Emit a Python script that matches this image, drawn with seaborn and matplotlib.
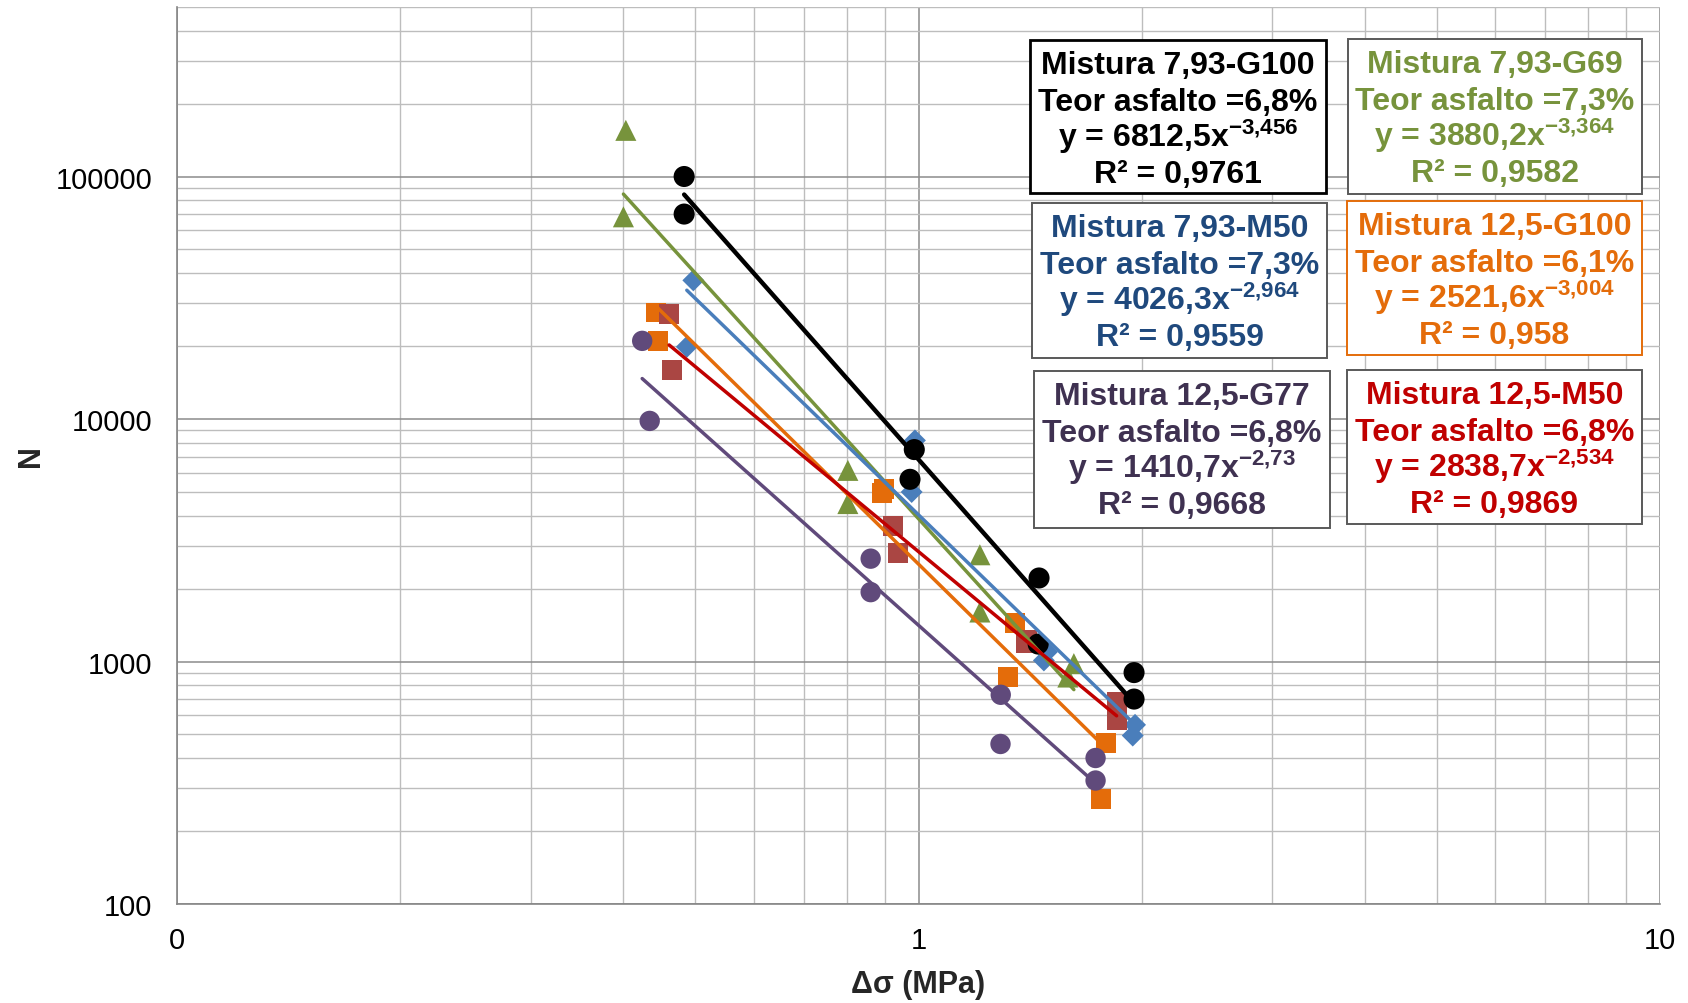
import numpy as np
import pandas as pd
import matplotlib
matplotlib.use("Agg")
import matplotlib.pyplot as plt
from matplotlib.ticker import FixedLocator, FixedFormatter, LogLocator, NullFormatter
from matplotlib.patches import Rectangle
import seaborn as sns

# ---------------- data ----------------
series_names = ["Mistura 7,93-G100", "Mistura 7,93-G69", "Mistura 7,93-M50",
                "Mistura 12,5-G100", "Mistura 12,5-G77", "Mistura 12,5-M50"]

x_793_g100 = [0.483, 0.483, 0.987, 0.974, 1.454, 1.450, 1.953, 1.953]
y_793_g100 = [100000, 70000, 7480, 5640, 2210, 1180, 900, 700]

x_793_g69 = [0.403, 0.400, 0.803, 0.803, 1.210, 1.210, 1.620, 1.590]
y_793_g69 = [155000, 68200, 6140, 4480, 2755, 1600, 980, 863]

x_793_m50 = [0.497, 0.487, 0.989, 0.979, 1.490, 1.476, 1.959, 1.945]
y_793_m50 = [37300, 19840, 8160, 5000, 1095, 1010, 548, 495]

x_125_g100 = [0.442, 0.445, 0.898, 0.893, 1.349, 1.320, 1.790, 1.762]
y_125_g100 = [27500, 21000, 5130, 4950, 1446, 863, 462, 271]

x_125_g77 = [0.424, 0.434, 0.862, 0.862, 1.291, 1.290, 1.733, 1.733]
y_125_g77 = [21000, 9820, 2655, 1932, 729, 457, 400, 323]

x_125_m50 = [0.461, 0.465, 0.925, 0.939, 1.397, 1.400, 1.850, 1.850]
y_125_m50 = [27200, 15900, 3610, 2810, 1192, 1230, 680, 571]

asphalt_content = ["6,8%", "7,3%", "7,3%", "6,1%", "6,8%", "6,8%"]
fit_coef = [6812.5, 3880.2, 4026.3, 2521.6, 1410.7, 2838.7]
fit_expo = [-3.456, -3.364, -2.964, -3.004, -2.73, -2.534]
fit_r2 = [0.9761, 0.9582, 0.9559, 0.958, 0.9668, 0.9869]

x_ticks = [0.1, 1, 10]
x_tick_labels = ["0", "1", "10"]
y_ticks = [100, 1000, 10000, 100000]
y_tick_labels = ["100", "1000", "10000", "100000"]

x_data = [x_793_g100, x_793_g69, x_793_m50, x_125_g100, x_125_g77, x_125_m50]
y_data = [y_793_g100, y_793_g69, y_793_m50, y_125_g100, y_125_g77, y_125_m50]

# ---------------- styles ----------------
marker_color = ["#000000", "#77933C", "#4A7EBB", "#E46C0A", "#604A7B", "#AA4643"]
line_color = ["#000000", "#77933C", "#4A7EBB", "#E46C0A", "#604A7B", "#C00000"]
text_color = ["#000000", "#77933C", "#1F497D", "#E46C0A", "#3F3151", "#C00000"]
border_color = ["#000000", "#595959", "#595959", "#E46C0A", "#595959", "#595959"]
border_lw = [2.0, 1.4, 1.4, 1.4, 1.4, 1.4]
markers = ["o", "^", "D", "s", "o", "s"]
msizes = [230, 230, 125, 205, 215, 205]
line_w = [3.2, 2.5, 2.5, 2.5, 2.5, 2.5]
draw_order = [2, 3, 5, 0, 1, 4]

rows = []
for name, xs, ys in zip(series_names, x_data, y_data):
    for xv, yv in zip(xs, ys):
        rows.append({"serie": name, "x": xv, "y": yv})
df = pd.DataFrame(rows)

trend_rows = []
for name, xs, a, b in zip(series_names, x_data, fit_coef, fit_expo):
    for xv in (min(xs), max(xs)):
        trend_rows.append({"serie": name, "x": xv, "y": a * xv ** b})
df_trend = pd.DataFrame(trend_rows)

sns.set_style("white")
plt.rcParams["font.family"] = ["Liberation Sans", "DejaVu Sans"]
plt.rcParams["mathtext.fontset"] = "custom"
plt.rcParams["mathtext.rm"] = "Liberation Sans"
plt.rcParams["mathtext.bf"] = "Liberation Sans:bold"
plt.rcParams["mathtext.it"] = "Liberation Sans:italic"

W, H = 1688, 1004
fig = plt.figure(figsize=(W / 100, H / 100), dpi=100)
ax = fig.add_axes([177 / W, 1 - 905 / H, (1660 - 177) / W, (905 - 8) / H])

for i in draw_order:
    sub = df[df["serie"] == series_names[i]]
    sns.scatterplot(data=sub, x="x", y="y", color=marker_color[i], marker=markers[i],
                    s=msizes[i], linewidth=0, edgecolor="none", ax=ax, zorder=3,
                    legend=False)

for i in range(len(series_names)):
    sub = df_trend[df_trend["serie"] == series_names[i]]
    sns.lineplot(data=sub, x="x", y="y", color=line_color[i], linewidth=line_w[i],
                 ax=ax, zorder=4, legend=False, estimator=None, sort=False)

ax.set_xscale("log")
ax.set_yscale("log")
ax.set_xlim(0.1, 10)
ax.set_ylim(100, 500000)

ax.xaxis.set_major_locator(FixedLocator(x_ticks))
ax.xaxis.set_major_formatter(FixedFormatter(x_tick_labels))
ax.yaxis.set_major_locator(FixedLocator(y_ticks))
ax.yaxis.set_major_formatter(FixedFormatter(y_tick_labels))
ax.xaxis.set_minor_locator(LogLocator(base=10, subs=np.arange(2, 10)))
ax.yaxis.set_minor_locator(LogLocator(base=10, subs=np.arange(2, 10)))
ax.xaxis.set_minor_formatter(NullFormatter())
ax.yaxis.set_minor_formatter(NullFormatter())

ax.grid(which="major", color="#8C8C8C", linewidth=1.1, zorder=0)
ax.grid(which="minor", color="#BDBDBD", linewidth=1.0, zorder=0)
ax.set_axisbelow(True)

for s in ["top", "right"]:
    ax.spines[s].set_visible(False)
for s in ["left", "bottom"]:
    ax.spines[s].set_color("#868686")
    ax.spines[s].set_linewidth(1.2)

ax.tick_params(axis="both", which="major", direction="out", length=5.8, width=1.0,
               color="#868686", labelsize=21, labelcolor="black")
ax.tick_params(axis="y", which="major", pad=12)
ax.tick_params(axis="x", which="major", pad=10)
ax.tick_params(axis="both", which="minor", length=0)

ax.set_xlabel("Δσ (MPa)", fontsize=22, fontweight="bold")
ax.set_ylabel("N", fontsize=22, fontweight="bold")
ax.xaxis.set_label_coords(0.5, -0.073)
ax.yaxis.set_label_coords(-0.088, 0.5)

# ---------------- equation boxes ----------------
boxes = [(1030, 41, 296, 153), (1348, 40, 294, 155), (1032, 204, 295, 155),
         (1347, 202, 295, 154), (1034, 372, 296, 157), (1347, 371, 295, 154)]
baseline_off = [33, 70, 106, 142]

for i, (l, t, w, h) in enumerate(boxes):
    rect = Rectangle((l / W, 1 - (t + h) / H), w / W, h / H, transform=fig.transFigure,
                     facecolor="white", edgecolor=border_color[i], linewidth=border_lw[i],
                     zorder=5)
    fig.add_artist(rect)
    coef_s = f"{fit_coef[i]:.1f}".replace(".", ",")
    exp_s = f"{abs(fit_expo[i])}".replace(".", "{,}")
    r2_s = f"{fit_r2[i]}".replace(".", ",")
    lines = [series_names[i],
             f"Teor asfalto ={asphalt_content[i]}",
             f"y = {coef_s}x" + r"$^{\mathbf{-" + exp_s + r"}}$",
             f"R² = {r2_s}"]
    cx = (l + w / 2) / W
    for off, txt in zip(baseline_off, lines):
        fig.text(cx, 1 - (t + off) / H, txt, ha="center", va="baseline", fontsize=23,
                 fontweight="bold", color=text_color[i], zorder=6)

fig.savefig("out.png", dpi=100)
